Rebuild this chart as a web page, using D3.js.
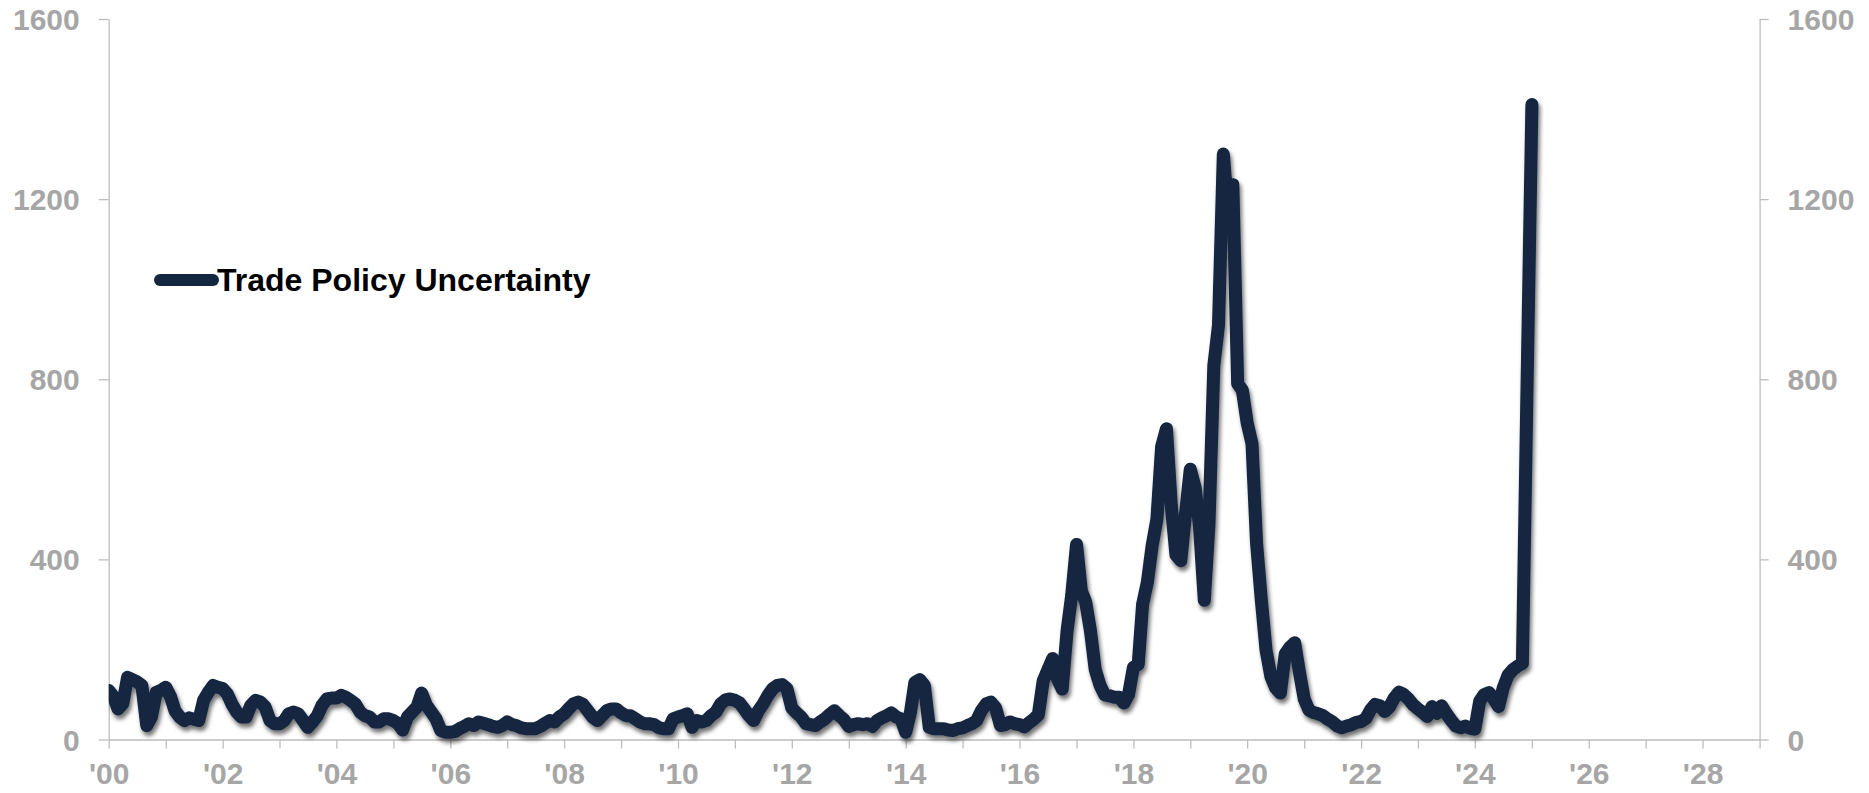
<!DOCTYPE html>
<html>
<head>
<meta charset="utf-8">
<script src="https://cdn.jsdelivr.net/npm/d3@7"></script>
<style>
  html, body { margin: 0; padding: 0; background: #ffffff; }
  svg { display: block; }
  text { font-family: "Liberation Sans", Arial, Helvetica, sans-serif; font-weight: bold; }
</style>
</head>
<body>
<svg id="chart" width="1869" height="793"></svg>
<script>
// Trade Policy Uncertainty index, monthly, starting January 2000
const firstYear = 2000;
const tpuMonthly = [
  // 2000
  109, 95, 68, 80, 138, 133, 128, 120, 31, 50, 105, 109,
  // 2001
  116, 95, 64, 50, 42, 48, 45, 42, 87, 105, 120, 116,
  // 2002
  113, 101, 79, 61, 50, 50, 76, 87, 83, 72, 42, 35,
  // 2003
  35, 42, 57, 61, 57, 42, 27, 39, 53, 76, 90, 92,
  // 2004
  92, 98, 94, 87, 79, 61, 53, 50, 39, 39, 46, 46,
  // 2005
  42, 35, 21, 50, 61, 72, 103, 76, 61, 46, 20, 16,
  // 2006
  16, 18, 24, 29, 35, 31, 39, 36, 33, 29, 27, 31,
  // 2007
  39, 33, 31, 26, 24, 24, 24, 29, 36, 42, 39, 50,
  // 2008
  57, 69, 79, 83, 78, 64, 50, 42, 53, 64, 68, 68,
  // 2009
  59, 53, 53, 46, 39, 35, 35, 33, 26, 24, 24, 46,
  // 2010
  50, 53, 57, 27, 42, 39, 42, 53, 61, 79, 88, 90,
  // 2011
  87, 81, 68, 53, 42, 64, 79, 98, 113, 120, 122, 113,
  // 2012
  70, 59, 50, 35, 33, 31, 39, 46, 56, 64, 53, 44,
  // 2013
  29, 33, 35, 33, 35, 29, 42, 48, 53, 59, 50, 46,
  // 2014
  16, 61, 127, 133, 120, 27, 24, 24, 24, 21, 20, 24,
  // 2015
  26, 31, 35, 42, 64, 79, 83, 70, 31, 33, 39, 35,
  // 2016
  33, 28, 37, 45, 55, 130, 155, 180, 135, 112, 240, 320,
  // 2017
  433, 330, 305, 240, 155, 120, 99, 97, 94, 94, 81, 100,
  // 2018
  160, 167, 300, 350, 430, 490, 650, 690, 520, 410, 397, 500,
  // 2019
  600, 560, 474, 309, 480, 830, 920, 1300, 1165, 1232, 790, 776,
  // 2020
  703, 657, 437, 309, 199, 140, 115, 103, 190, 205, 215, 150,
  // 2021
  90, 65, 60, 57, 53, 45, 39, 30, 26, 30, 33, 38,
  // 2022
  40, 47, 65, 78, 75, 62, 72, 92, 105, 100, 90, 77,
  // 2023
  68, 60, 51, 73, 58, 75, 58, 43, 30, 26, 30, 25,
  // 2024
  23, 85, 100, 104, 90, 73, 115, 143, 155, 163, 169, 790,
  // 2025
  1410
];
const seriesName = "Trade Policy Uncertainty";
const yTickValues = [0, 400, 800, 1200, 1600];
const xLabelYears = [2000, 2002, 2004, 2006, 2008, 2010, 2012, 2014, 2016, 2018, 2020, 2022, 2024, 2026, 2028];
const xDomainYears = [2000, 2029];

const series = tpuMonthly.map((v, i) => ({
  date: new Date(Date.UTC(firstYear + Math.floor(i / 12), i % 12, 1)),
  value: v
}));

const svg = d3.select("#chart");
const plotLeft = 108.7, plotRight = 1759.6, plotTop = 19, plotBottom = 739.5;
const axisGrey = "#bdbdbd", labelGrey = "#a6a6a6", lineColor = "#13263f";

const x = d3.scaleUtc()
  .domain([Date.UTC(xDomainYears[0], 0, 1), Date.UTC(xDomainYears[1], 0, 1)])
  .range([plotLeft, plotRight]);
const y = d3.scaleLinear().domain([0, 1600]).range([plotBottom, plotTop]);

// soft shadow under the series line
const defs = svg.append("defs");
const f = defs.append("filter").attr("id", "shadow")
  .attr("x", "-5%").attr("y", "-5%").attr("width", "110%").attr("height", "115%");
f.append("feDropShadow").attr("dx", 2).attr("dy", 4).attr("stdDeviation", 2.2)
  .attr("flood-color", "#000").attr("flood-opacity", 0.55);
defs.append("clipPath").attr("id", "plot")
  .append("rect").attr("x", plotLeft).attr("y", 0)
  .attr("width", plotRight - plotLeft + 20).attr("height", plotBottom + 20);

function styleAxis(g) {
  g.selectAll("path.domain").attr("stroke", axisGrey).attr("stroke-width", 1.3);
  g.selectAll(".tick line").attr("stroke", axisGrey).attr("stroke-width", 1.3);
  g.selectAll(".tick text").attr("fill", labelGrey).attr("font-size", 30)
    .attr("font-family", "'Liberation Sans', Arial, sans-serif").attr("font-weight", "bold");
}

// left value axis
svg.append("g").attr("transform", `translate(${plotLeft},0)`)
  .call(d3.axisLeft(y).tickValues(yTickValues).tickFormat(d3.format("d"))
    .tickSize(10).tickSizeOuter(0).tickPadding(19))
  .call(styleAxis)
  .call(g => g.selectAll(".tick text").attr("dy", "0.35em"));

// right value axis
svg.append("g").attr("transform", `translate(${plotRight},0)`)
  .call(d3.axisRight(y).tickValues(yTickValues).tickFormat(d3.format("d"))
    .tickSize(9).tickSizeOuter(0).tickPadding(19))
  .call(styleAxis)
  .call(g => g.selectAll(".tick text").attr("dy", "0.35em"));

// time axis: yearly ticks, labels every other year
const labelSet = new Set(xLabelYears);
svg.append("g").attr("transform", `translate(0,${plotBottom})`)
  .call(d3.axisBottom(x)
    .tickValues(d3.utcYears(new Date(Date.UTC(xDomainYears[0], 0, 1)), new Date(Date.UTC(xDomainYears[1], 0, 2))))
    .tickFormat(d => labelSet.has(d.getUTCFullYear()) ? "'" + String(d.getUTCFullYear() % 100).padStart(2, "0") : "")
    .tickSize(9).tickSizeOuter(0).tickPadding(14))
  .call(styleAxis);

// series line
const line = d3.line().x(d => x(d.date)).y(d => y(d.value));
svg.append("g").attr("clip-path", "url(#plot)")
  .append("path").datum(series)
  .attr("d", line)
  .attr("fill", "none")
  .attr("stroke", lineColor)
  .attr("stroke-width", 13)
  .attr("stroke-linejoin", "round")
  .attr("stroke-linecap", "round")
  .attr("filter", "url(#shadow)");

// legend
const legend = svg.append("g");
legend.append("line").attr("x1", 160).attr("x2", 213).attr("y1", 280).attr("y2", 280)
  .attr("stroke", lineColor).attr("stroke-width", 12).attr("stroke-linecap", "round");
legend.append("text").attr("x", 217).attr("y", 291).attr("font-size", 32)
  .attr("fill", "#000").text(seriesName);
</script>
</body>
</html>
